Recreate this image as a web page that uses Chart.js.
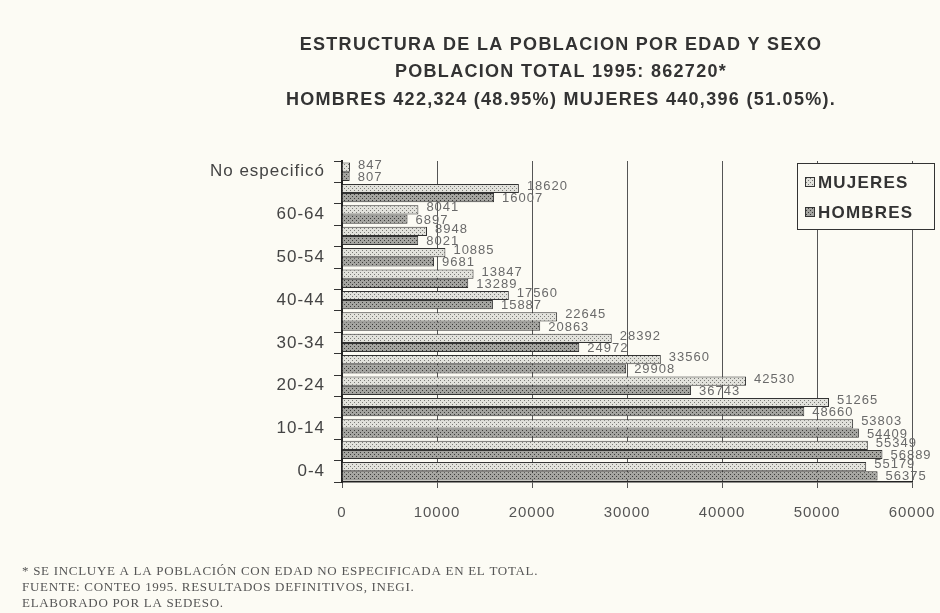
<!DOCTYPE html>
<html>
<head>
<meta charset="utf-8">
<title>Estructura de la poblacion por edad y sexo</title>
<script src="https://cdn.jsdelivr.net/npm/chart.js@4.4.1/dist/chart.umd.min.js"></script>
<style>
  html, body { margin: 0; padding: 0; background: #fcfbf4; }
  #wrap { width: 940px; height: 613px; position: relative; }
</style>
</head>
<body>
<div id="wrap"><canvas id="chart" width="940" height="613"></canvas></div>
<script>
// Data
const grupos = ['No especificó', '65 y más', '60-64', '55-59', '50-54', '45-49', '40-44', '35-39',
                '30-34', '25-29', '20-24', '15-19', '10-14', '5-9', '0-4'];
const mujeres = [847, 18620, 8041, 8948, 10885, 13847, 17560, 22645, 28392, 33560, 42530, 51265, 53803, 55349, 55179];
const hombres = [807, 16007, 6897, 8021, 9681, 13289, 15887, 20863, 24972, 29908, 36743, 48660, 54409, 56889, 56375];
const xTicks = [0, 10000, 20000, 30000, 40000, 50000, 60000];

const titulo = [
    'ESTRUCTURA DE LA POBLACION POR EDAD Y SEXO',
    'POBLACION TOTAL 1995: 862720*',
    'HOMBRES 422,324 (48.95%) MUJERES 440,396 (51.05%).'
];
const notas = [
    '* SE INCLUYE A LA POBLACIÓN CON EDAD NO ESPECIFICADA EN EL TOTAL.',
    'FUENTE: CONTEO 1995. RESULTADOS DEFINITIVOS, INEGI.',
    'ELABORADO POR LA SEDESO.'
];

// dotted fills like the printed original
function makePattern(bg, dot) {
    const c = document.createElement('canvas');
    c.width = 4; c.height = 4;
    const g = c.getContext('2d');
    g.fillStyle = bg;
    g.fillRect(0, 0, 4, 4);
    g.fillStyle = dot;
    g.fillRect(0, 0, 1, 1);
    g.fillRect(2, 2, 1, 1);
    return g.createPattern(c, 'repeat');
}
const fillMujeres = makePattern('#e2e2dc', '#7a7a76');
const fillHombres = makePattern('#a4a4a0', '#3c3c3a');

const sans = '"Liberation Sans", Arial, sans-serif';

const pagePlugin = {
    id: 'page',
    beforeDraw(chart) {
        const ctx = chart.ctx;
        ctx.save();
        ctx.fillStyle = '#fcfbf4';
        ctx.fillRect(0, 0, chart.width, chart.height);
        ctx.restore();
        // the scan is a little stretched sideways, so all text gets extra spacing
        ctx.letterSpacing = '1px';
    },
    afterDraw(chart) {
        const ctx = chart.ctx;
        ctx.save();
        // title
        ctx.fillStyle = '#333';
        ctx.textAlign = 'center';
        ctx.textBaseline = 'middle';
        ctx.font = 'bold 18px ' + sans;
        ctx.letterSpacing = '1.3px';
        [45, 72, 100].forEach((y, i) => ctx.fillText(titulo[i], 561, y));

        // footnotes
        ctx.textAlign = 'left';
        ctx.fillStyle = '#555';
        ctx.letterSpacing = '0.7px';
        ctx.font = '13px "Liberation Serif", "Times New Roman", serif';
        [572, 588, 604].forEach((y, i) => ctx.fillText(notas[i], 22, y));

        // legend box
        ctx.fillStyle = '#fcfbf4';
        ctx.fillRect(797, 163, 138, 67);
        ctx.strokeStyle = '#333';
        ctx.lineWidth = 1;
        ctx.strokeRect(797.5, 163.5, 137, 66);
        const items = [['MUJERES', fillMujeres, 182], ['HOMBRES', fillHombres, 212]];
        ctx.font = 'bold 17px ' + sans;
        ctx.letterSpacing = '1.2px';
        items.forEach(([txt, fill, y]) => {
            ctx.fillStyle = fill;
            ctx.fillRect(805, y - 5, 10, 10);
            ctx.strokeRect(805.5, y - 4.5, 9, 9);
            ctx.fillStyle = '#333';
            ctx.fillText(txt, 818, y + 1);
        });
        ctx.restore();
        ctx.letterSpacing = '0px';
    }
};

const valueLabels = {
    id: 'valueLabels',
    afterDatasetsDraw(chart) {
        const ctx = chart.ctx;
        ctx.save();
        ctx.font = '13px ' + sans;
        ctx.fillStyle = '#6a6a6a';
        ctx.textBaseline = 'middle';
        chart.data.datasets.forEach((ds, i) => {
            chart.getDatasetMeta(i).data.forEach((bar, j) => {
                ctx.fillText(ds.data[j], bar.x + 8, bar.y + (i === 0 ? -2 : 1));
            });
        });
        ctx.restore();
    }
};

const ctx = document.getElementById('chart').getContext('2d');
const chart = new Chart(ctx, {
    type: 'bar',
    data: {
        labels: grupos,
        datasets: [{
            label: 'MUJERES',
            data: mujeres,
            backgroundColor: fillMujeres,
            borderColor: '#333',
            borderWidth: 1
        }, {
            label: 'HOMBRES',
            data: hombres,
            backgroundColor: fillHombres,
            borderColor: '#333',
            borderWidth: 1
        }]
    },
    options: {
        indexAxis: 'y',
        responsive: false,
        animation: false,
        layout: { padding: { left: 0, right: 28, top: 161, bottom: 91 } },
        datasets: { bar: { categoryPercentage: 0.86, barPercentage: 1.0 } },
        plugins: {
            legend: { display: false },
            title: { display: false },
            tooltip: { enabled: false }
        },
        scales: {
            x: {
                min: 0,
                max: 60000,
                afterBuildTicks(scale) { scale.ticks = xTicks.map(v => ({ value: v })); },
                afterFit(scale) {
                    scale.height = 40;
                    scale.paddingLeft = 0;
                    scale.paddingRight = 0;
                },
                grid: { color: '#555', lineWidth: 1, tickLength: 6 },
                border: { color: '#222', width: 1.5 },
                ticks: {
                    color: '#555',
                    padding: 16,
                    font: { size: 15, family: sans },
                    callback: v => String(v)
                }
            },
            y: {
                afterFit(scale) { scale.width = 342; },
                grid: { offset: true, drawOnChartArea: false, tickLength: 8, color: '#333' },
                border: { color: '#222', width: 2 },
                ticks: {
                    autoSkip: false,
                    color: '#444',
                    padding: 9,
                    font: { size: 17, family: sans },
                    callback: (v, i) => (i % 2 === 0 ? grupos[i] : '')
                }
            }
        }
    },
    plugins: [pagePlugin, valueLabels]
});
</script>
</body>
</html>
